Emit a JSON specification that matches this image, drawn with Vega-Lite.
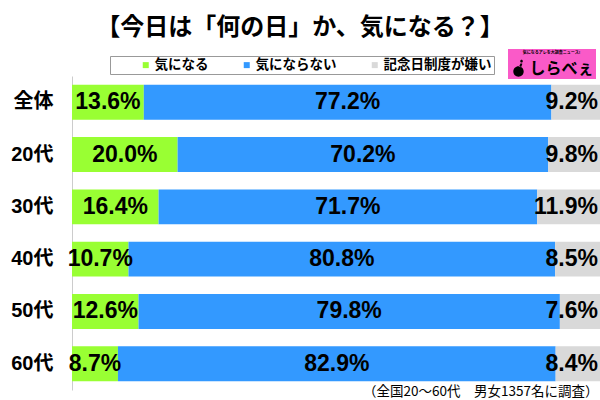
{
  "$schema": "https://vega.github.io/schema/vega-lite/v6.json",
  "width": 528,
  "height": 314,
  "autosize": {"type": "none"},
  "padding": {"left": 72, "top": 76, "right": 0, "bottom": 10},
  "background": "white",
  "title": {
    "text": "【今日は「何の日」か、気になる？】",
    "font": "Noto Sans CJK JP",
    "fontSize": 24,
    "fontWeight": "bold",
    "color": "black",
    "anchor": "middle",
    "frame": "group",
    "dx": -36,
    "offset": 9
  },
  "data": {
    "values": [
      {"group": "全体", "cat": "気になる", "ord": 1, "value": 13.6},
      {"group": "全体", "cat": "気にならない", "ord": 2, "value": 77.2},
      {"group": "全体", "cat": "記念日制度が嫌い", "ord": 3, "value": 9.2},
      {"group": "20代", "cat": "気になる", "ord": 1, "value": 20.0},
      {"group": "20代", "cat": "気にならない", "ord": 2, "value": 70.2},
      {"group": "20代", "cat": "記念日制度が嫌い", "ord": 3, "value": 9.8},
      {"group": "30代", "cat": "気になる", "ord": 1, "value": 16.4},
      {"group": "30代", "cat": "気にならない", "ord": 2, "value": 71.7},
      {"group": "30代", "cat": "記念日制度が嫌い", "ord": 3, "value": 11.9},
      {"group": "40代", "cat": "気になる", "ord": 1, "value": 10.7},
      {"group": "40代", "cat": "気にならない", "ord": 2, "value": 80.8},
      {"group": "40代", "cat": "記念日制度が嫌い", "ord": 3, "value": 8.5},
      {"group": "50代", "cat": "気になる", "ord": 1, "value": 12.6},
      {"group": "50代", "cat": "気にならない", "ord": 2, "value": 79.8},
      {"group": "50代", "cat": "記念日制度が嫌い", "ord": 3, "value": 7.6},
      {"group": "60代", "cat": "気になる", "ord": 1, "value": 8.7},
      {"group": "60代", "cat": "気にならない", "ord": 2, "value": 82.9},
      {"group": "60代", "cat": "記念日制度が嫌い", "ord": 3, "value": 8.4}
    ]
  },
  "transform": [
    {"stack": "value", "groupby": ["group"], "sort": [{"field": "ord", "order": "ascending"}], "as": ["v0", "v1"]}
  ],
  "encoding": {
    "y": {
      "field": "group",
      "type": "nominal",
      "sort": ["全体", "20代", "30代", "40代", "50代", "60代"],
      "scale": {"paddingInner": 0.333, "paddingOuter": 0.167},
      "axis": {
        "title": null,
        "domain": true,
        "domainColor": "#cccccc",
        "domainWidth": 1,
        "ticks": false,
        "grid": false,
        "labelPadding": 19,
        "labelFontSize": 20,
        "labelFont": "Liberation Sans, Noto Sans CJK JP",
        "labelFontWeight": "bold",
        "labelColor": "black"
      }
    }
  },
  "layer": [
    {
      "mark": {"type": "bar"},
      "encoding": {
        "x": {
          "field": "v0",
          "type": "quantitative",
          "scale": {"domain": [0, 100], "nice": false},
          "title": "（全国20～60代　男女1357名に調査）",
          "axis": {
            "domain": false,
            "ticks": false,
            "labels": false,
            "grid": false,
            "titleFont": "Noto Sans CJK JP",
            "titleFontSize": 13.5,
            "titleFontWeight": "normal",
            "titleColor": "black",
            "titleAlign": "right",
            "titleAnchor": "end",
            "titleBaseline": "alphabetic",
            "titleX": 526,
            "titleY": 5
          }
        },
        "x2": {"field": "v1"},
        "color": {
          "field": "cat",
          "type": "nominal",
          "scale": {
            "domain": ["気になる", "気にならない", "記念日制度が嫌い"],
            "range": ["#99ff33", "#3399ff", "#d9d9d9"]
          },
          "legend": {
            "orient": "none",
            "legendX": 38,
            "legendY": -20,
            "direction": "horizontal",
            "title": null,
            "padding": 2,
            "strokeColor": "#999999",
            "fillColor": "white",
            "symbolType": "square",
            "symbolSize": 36,
            "symbolStrokeWidth": 0,
            "symbolOffset": 27,
            "columnPadding": 4,
            "labelOffset": 2,
            "labelFont": "Noto Sans CJK JP",
            "labelFontSize": 13.5,
            "labelFontWeight": "bold",
            "labelColor": "black",
            "labelExpr": "datum.label == '記念日制度が嫌い' ? datum.label + '　' : datum.label"
          }
        }
      }
    },
    {
      "transform": [
        {"filter": "datum.ord < 3"},
        {"fold": ["v0", "v1"], "as": ["k", "pos"]},
        {"aggregate": [{"op": "mean", "field": "pos", "as": "mid"}, {"op": "max", "field": "value", "as": "value"}], "groupby": ["group", "cat", "ord"]}
      ],
      "mark": {
        "type": "text",
        "font": "Liberation Sans",
        "fontSize": 23,
        "fontWeight": "bold",
        "color": "black",
        "align": "center",
        "baseline": "middle",
        "text": {"expr": "format(datum.value, '.1f') + '%'"}
      },
      "encoding": {
        "x": {"field": "mid", "type": "quantitative", "title": "（全国20～60代　男女1357名に調査）"}
      }
    },
    {
      "transform": [{"filter": "datum.ord == 3"}],
      "mark": {
        "type": "text",
        "font": "Liberation Sans",
        "fontSize": 23,
        "fontWeight": "bold",
        "color": "black",
        "align": "right",
        "baseline": "middle",
        "dx": -2,
        "text": {"expr": "format(datum.value, '.1f') + '%'"}
      },
      "encoding": {
        "x": {"field": "v1", "type": "quantitative", "title": "（全国20～60代　男女1357名に調査）"}
      }
    },
    {
      "mark": {"type": "point", "filled": true, "opacity": 0, "color": "black"},
      "encoding": {
        "shape": {
          "datum": "しらべぇ",
          "type": "nominal",
          "scale": {"range": ["M-0.6,0.35 A0.6,0.6 0 1,0 0.6,0.35 A0.6,0.6 0 1,0 -0.6,0.35 Z M0.05,-0.2 L0.25,-0.6 L0.45,-0.55 L0.3,-0.15 Z M0.2,-0.85 A0.15,0.15 0 1,0 0.5,-0.85 A0.15,0.15 0 1,0 0.2,-0.85 Z"]},
          "legend": {
            "orient": "none",
            "legendX": 436,
            "legendY": -27,
            "title": "気になるアレを大調査ニュース!",
            "titleFont": "Noto Sans CJK JP",
            "titleFontSize": 4,
            "titleColor": "black",
            "titleAnchor": "middle",
            "titlePadding": 5,
            "padding": 1.5,
            "fillColor": "#fa5ac8",
            "symbolSize": 300,
            "symbolFillColor": "black",
            "symbolStrokeColor": "black",
            "symbolStrokeWidth": 0,
            "symbolOpacity": 1,
            "labelOffset": 2,
            "labelFont": "Noto Sans CJK JP",
            "labelFontSize": 16,
            "labelFontWeight": "bold",
            "labelColor": "black"
          }
        }
      }
    }
  ],
  "config": {
    "view": {"stroke": null}
  }
}
